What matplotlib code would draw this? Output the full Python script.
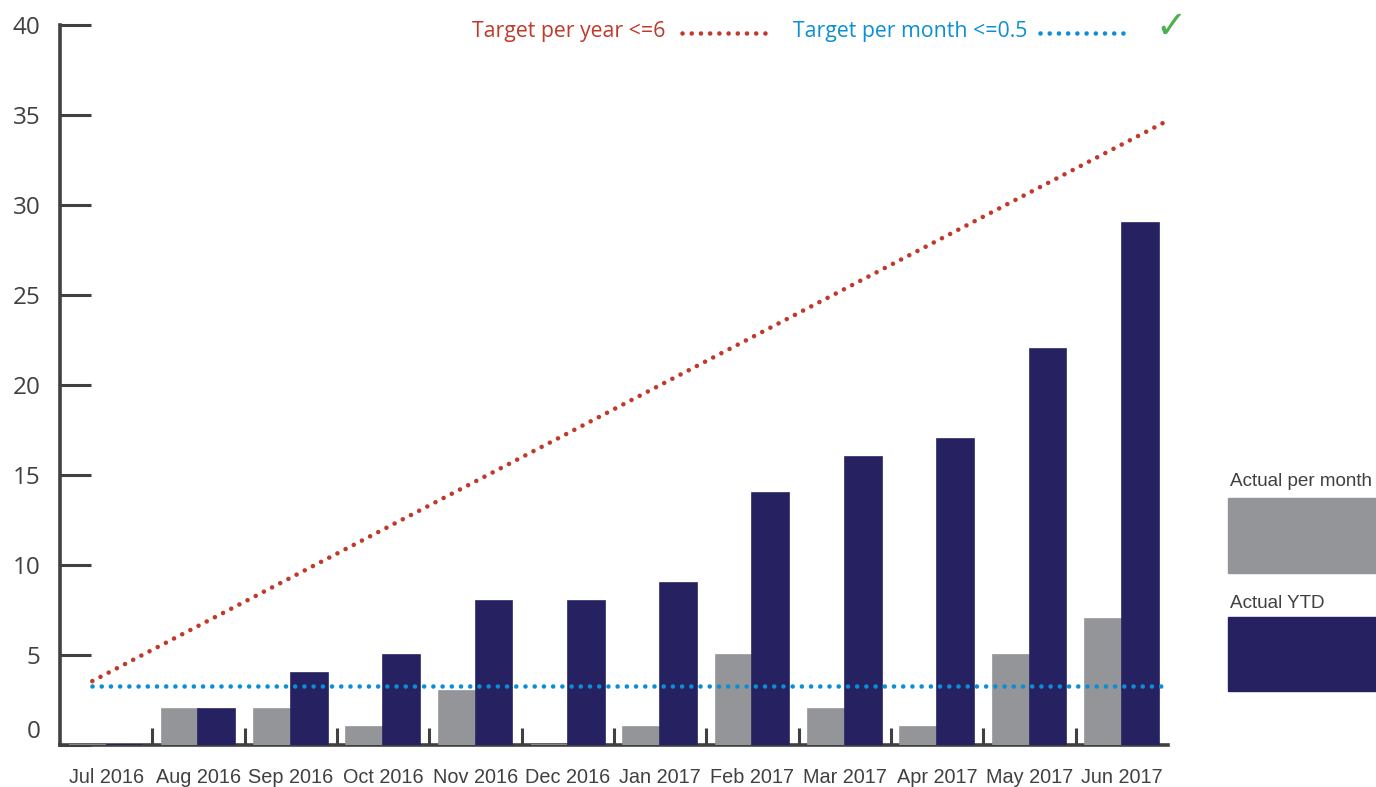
import matplotlib
matplotlib.use("Agg")
import matplotlib.pyplot as plt
from matplotlib.patches import Rectangle
from matplotlib.lines import Line2D
import matplotlib.transforms as mtransforms
import numpy as np

months = ["Jul 2016", "Aug 2016", "Sep 2016", "Oct 2016", "Nov 2016", "Dec 2016",
          "Jan 2017", "Feb 2017", "Mar 2017", "Apr 2017", "May 2017", "Jun 2017"]
actual_per_month = [0, 2, 2, 1, 3, 0, 1, 5, 2, 1, 5, 7]
actual_ytd = [0, 2, 4, 5, 8, 8, 9, 14, 16, 17, 22, 29]
target_year_x = [-0.15, 11.5]
target_year_y = [3.55, 34.7]
target_month_x = [-0.15, 11.5]
target_month_y = [3.28, 3.28]
y_ticks = [0, 5, 10, 15, 20, 25, 30, 35, 40]

GRAY = "#939598"
NAVY = "#262262"
RED = "#c0392b"
BLUE = "#0a8fd6"
GREEN = "#4caf50"
AXC = "#404040"
TXT = "#404040"

NARROW = ["Liberation Sans", "DejaVu Sans"]
SANS = ["Open Sans", "DejaVu Sans"]

fig = plt.figure(figsize=(13.76, 7.87), dpi=100)
W, H = 1376, 787
ax = fig.add_axes([60 / W, 1 - 745 / H, (1168 - 60) / W, (745 - 25) / H])

x = np.arange(len(months))
bw = 0.4
ax.bar(x - bw / 2, actual_per_month, width=bw, color=GRAY, edgecolor=GRAY, linewidth=1.2, zorder=3)
ax.bar(x + bw / 2, actual_ytd, width=bw, color=NAVY, edgecolor=NAVY, linewidth=1.2, zorder=3)

dots = (0, (0.01, 2.0))
ax.plot(target_month_x, target_month_y, color=BLUE, lw=3.3, linestyle=dots,
        dash_capstyle="round", zorder=4, clip_on=False)
ax.plot(target_year_x, target_year_y, color=RED, lw=3.3, linestyle=dots,
        dash_capstyle="round", zorder=4, clip_on=False)

ax.set_xlim(-0.5, len(months) - 0.5)
ax.set_ylim(0, 40)

for s in ["top", "right"]:
    ax.spines[s].set_visible(False)
for s in ["left", "bottom"]:
    ax.spines[s].set_color(AXC)
    ax.spines[s].set_linewidth(2.6)

ax.set_yticks(y_ticks)
ax.set_yticklabels([str(v) for v in y_ticks], fontfamily=SANS, fontsize=17.5, color=TXT)
ax.tick_params(axis="y", direction="in", length=22, width=2.2, color=AXC, pad=14)

ax.set_xticks(x)
ax.set_xticklabels(months, fontfamily=NARROW, fontsize=14.3, color=TXT)
ax.tick_params(axis="x", which="major", length=0, pad=16.5)
ax.set_xticks(np.arange(0.5, len(months) - 1, 1.0), minor=True)
ax.tick_params(axis="x", which="minor", direction="in", length=12, width=2.2, color=AXC)

# shift the "0" label up slightly
lab0 = ax.get_yticklabels()[0]
lab0.set_transform(lab0.get_transform() + mtransforms.ScaledTranslation(0, 16 / 100, fig.dpi_scale_trans))

# top legend
fig.text(665 / W, 1 - 32 / H, "Target per year <=6", color=RED, fontsize=15.3,
         fontfamily=SANS, ha="right", va="center")
fig.add_artist(Line2D([682 / W, 772 / W], [1 - 33 / H, 1 - 33 / H], transform=fig.transFigure,
                      color=RED, lw=3.3, linestyle=dots, dash_capstyle="round"))
fig.text(793 / W, 1 - 32 / H, "Target per month <=0.5", color=BLUE, fontsize=15.3,
         fontfamily=SANS, ha="left", va="center")
fig.add_artist(Line2D([1040 / W, 1130 / W], [1 - 33 / H, 1 - 33 / H], transform=fig.transFigure,
                      color=BLUE, lw=3.3, linestyle=dots, dash_capstyle="round"))
fig.text(1171 / W, 1 - 28 / H, "\u2713", color=GREEN, fontsize=27,
         fontfamily=["DejaVu Sans"], ha="center", va="center")

# right legend
fig.text(1230 / W, 1 - 482 / H, "Actual per month", color=TXT, fontsize=13.6,
         fontfamily=NARROW, ha="left", va="center")
fig.add_artist(Rectangle((1228 / W, 1 - 573 / H), (1376 - 1228) / W, (573 - 498) / H,
                         transform=fig.transFigure, color=GRAY))
fig.text(1230 / W, 1 - 604 / H, "Actual YTD", color=TXT, fontsize=13.6,
         fontfamily=NARROW, ha="left", va="center")
fig.add_artist(Rectangle((1228 / W, 1 - 691 / H), (1376 - 1228) / W, (691 - 617) / H,
                         transform=fig.transFigure, color=NAVY))

fig.savefig("out.png", dpi=100)
